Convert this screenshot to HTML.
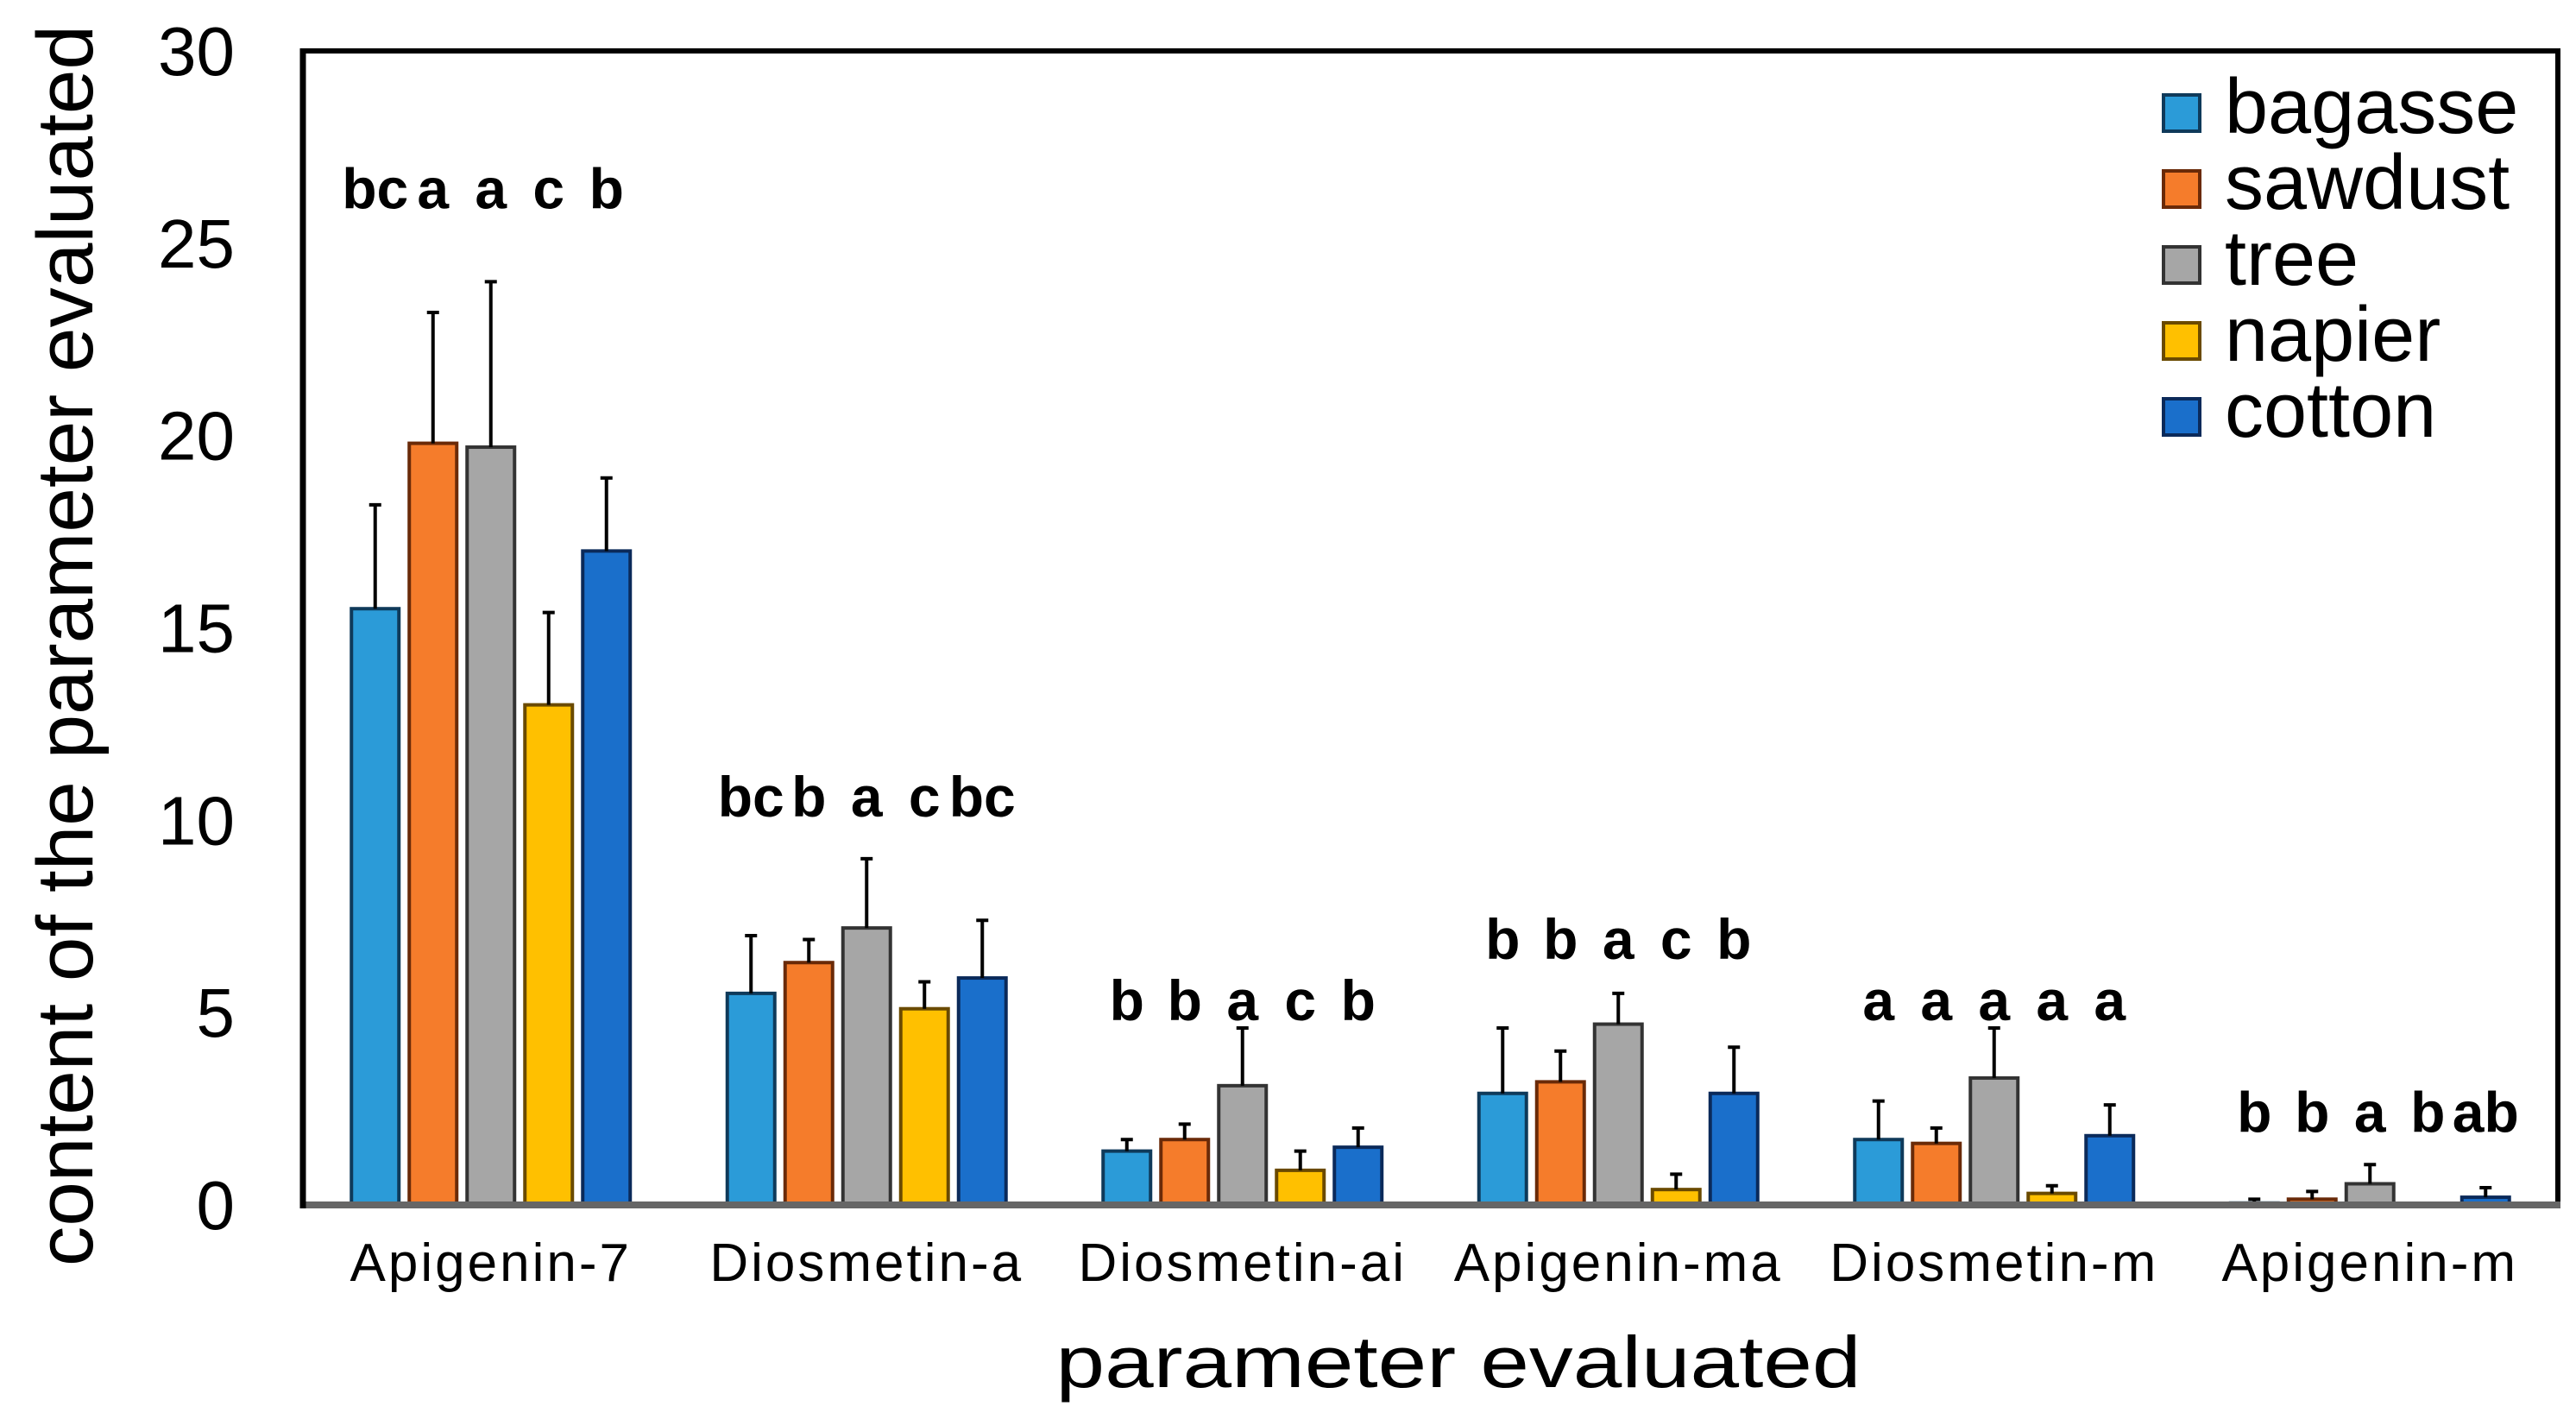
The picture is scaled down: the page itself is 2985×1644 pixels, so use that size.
<!DOCTYPE html>
<html><head><meta charset="utf-8"><style>
html,body{margin:0;padding:0;background:#fff;}
svg{display:block;font-family:"Liberation Sans",Arial,sans-serif;}
</style></head><body>
<svg id="chart" width="2985" height="1644" viewBox="0 0 2985 1644" xmlns="http://www.w3.org/2000/svg">
<rect x="351" y="59" width="2613" height="1337" fill="none" stroke="#000" stroke-width="6"/>
<g id="bars"></g>
<line x1="348" y1="1396" x2="2967" y2="1396" stroke="#666" stroke-width="8"/>
<line x1="351" y1="56" x2="351" y2="1400" stroke="#000" stroke-width="7"/>
<g id="yticks"></g>
<g id="xlabels"></g>
<text transform="translate(107,748) rotate(-90)" text-anchor="middle" font-size="92" textLength="1438" lengthAdjust="spacingAndGlyphs">content of the parameter evaluated</text>
<text x="1690" y="1607" text-anchor="middle" font-size="84" textLength="933" lengthAdjust="spacingAndGlyphs">parameter evaluated</text>
<g id="legend"></g>
</svg>
<script>
const categories = ["Apigenin-7","Diosmetin-a","Diosmetin-ai","Apigenin-ma","Diosmetin-m","Apigenin-m"];
const seriesNames = ["bagasse","sawdust","tree","napier","cotton"];
const bagasse = [15.5, 5.5, 1.4, 2.9, 1.7, 0.05];
const sawdust = [19.8, 6.3, 1.7, 3.2, 1.6, 0.15];
const tree    = [19.7, 7.2, 3.1, 4.7, 3.3, 0.55];
const napier  = [13.0, 5.1, 0.9, 0.4, 0.3, 0.0];
const cotton  = [17.0, 5.9, 1.5, 2.9, 1.8, 0.2];
const bagasseErr = [2.7, 1.5, 0.3, 1.7, 1.0, 0.1];
const sawdustErr = [3.4, 0.6, 0.4, 0.8, 0.4, 0.2];
const treeErr    = [4.3, 1.8, 1.5, 0.8, 1.3, 0.5];
const napierErr  = [2.4, 0.7, 0.5, 0.4, 0.2, 0.0];
const cottonErr  = [1.9, 1.5, 0.5, 1.2, 0.8, 0.25];
const letters = [["bc","a","a","c","b"],["bc","b","a","c","bc"],["b","b","a","c","b"],["b","b","a","c","b"],["a","a","a","a","a"],["b","b","a","b","ab"]];
const letterLevels = [25.9, 10.1, 4.8, 6.4, 4.8, 1.9];
const yTicks = [0,5,10,15,20,25,30];

const NS="http://www.w3.org/2000/svg";
const colors=["#2b9bd8","#f57c2b","#a6a6a6","#ffc000","#1a6fcb"];
const strokes=["#0f3a5a","#6a2a08","#333","#6a4a00","#0b2a5a"];
const X0=351,X1=2964,Y0=1396,Y1=59,YMAX=30;
function y(v){return Y0-(v/YMAX)*(Y0-Y1);}
const band=(X1-X0)/categories.length;
function xc(i){return X0+band*(i+0.5);}
const STEP=67,BW=55;
function xb(i,s){return xc(i)+(s-2)*STEP;}
function mk(tag,attrs,parent){const e=document.createElementNS(NS,tag);for(const k in attrs)e.setAttribute(k,attrs[k]);parent.appendChild(e);return e;}
const vals=[bagasse,sawdust,tree,napier,cotton];
const errs=[bagasseErr,sawdustErr,treeErr,napierErr,cottonErr];
const gb=document.getElementById('bars');
categories.forEach((c,i)=>{
  vals.forEach((arr,s)=>{
    const v=arr[i],cx=xb(i,s);
    if(v>0){
      const r=mk('rect',{x:cx-BW/2,y:y(v),width:BW,height:Y0-y(v),fill:colors[s],stroke:strokes[s],'stroke-width':4},gb);
      
      
      const e=errs[s][i];
      if(e>0){
        const l=mk('path',{d:`M${cx},${y(v)} V${y(v+e)} M${cx-7},${y(v+e)} H${cx+7}`,stroke:'#000','stroke-width':4,fill:'none'},gb);
        
        
      }
    }
    const t=mk('text',{x:cx,y:y(letterLevels[i]),'text-anchor':'middle','font-size':66,'font-weight':'bold'},gb);
    t.textContent=letters[i][s];
    
    
  });
});
const gy=document.getElementById('yticks');
yTicks.forEach(v=>{
  const t=mk('text',{x:272,y:y(v)+28,'text-anchor':'end','font-size':80},gy);
  t.textContent=v;
  
  
});
const gx=document.getElementById('xlabels');
categories.forEach((c,i)=>{
  const t=mk('text',{x:xc(i),y:1484,'text-anchor':'middle','font-size':62,'letter-spacing':3},gx);
  t.textContent=c;
  
  
});
const gl=document.getElementById('legend');
seriesNames.forEach((n,s)=>{
  const yy=110+s*88;
  const r=mk('rect',{x:2507,y:yy,width:42,height:42,fill:colors[s],stroke:strokes[s],'stroke-width':4},gl);
  
  
  const t=mk('text',{x:2578,y:yy+44,'font-size':90},gl);
  t.textContent=n;
  
  
});
</script>
</body></html>
